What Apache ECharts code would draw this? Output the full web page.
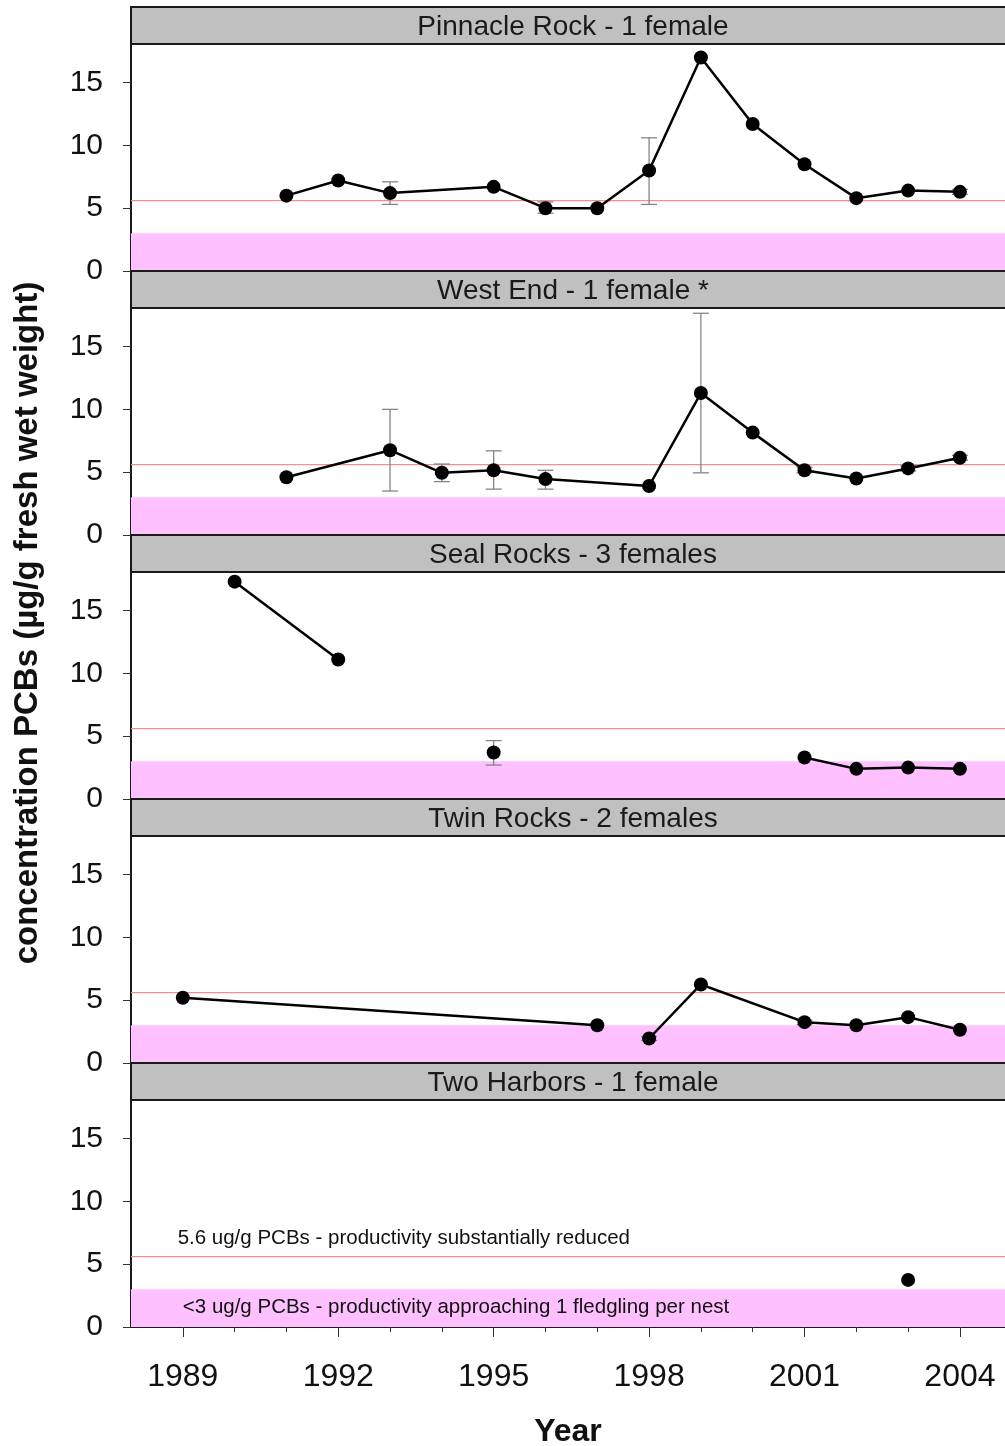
<!DOCTYPE html>
<html><head><meta charset="utf-8">
<script src="https://cdn.jsdelivr.net/npm/echarts@6/dist/echarts.min.js"></script>
<style>html,body{margin:0;padding:0;background:#fff}#c{width:1005px;height:1446px}</style>
</head><body><div id="c"></div>
<script>
// ---------- data ----------
const panelTitles = ['Pinnacle Rock - 1 female', 'West End - 1 female *', 'Seal Rocks - 3 females', 'Twin Rocks - 2 females', 'Two Harbors - 1 female'];
const xTickLabels = [1989, 1992, 1995, 1998, 2001, 2004];
const allYears = [1989,1990,1991,1992,1993,1994,1995,1996,1997,1998,1999,2000,2001,2002,2003,2004];
const yTickLabels = [0, 5, 10, 15];

const pinnacleYears    = [1991, 1992, 1993, 1995, 1996, 1997, 1998, 1999, 2000, 2001, 2002, 2003, 2004];
const pinnacleValues   = [6.0, 7.2, 6.2, 6.7, 5.0, 5.0, 8.0, 17.0, 11.7, 8.5, 5.8, 6.4, 6.3];
const pinnacleErrLow   = [null, null, 5.3, null, 4.6, null, 5.3, null, null, null, null, null, 6.1];
const pinnacleErrHigh  = [null, null, 7.1, null, 5.5, null, 10.6, null, null, null, null, null, 6.5];
const pinnacleSegments = [0, 0, 0, 0, 0, 0, 0, 0, 0, 0, 0, 0, 0];

const westEndYears    = [1991, 1993, 1994, 1995, 1996, 1998, 1999, 2000, 2001, 2002, 2003, 2004];
const westEndValues   = [4.6, 6.75, 4.95, 5.15, 4.45, 3.9, 11.3, 8.15, 5.15, 4.5, 5.3, 6.15];
const westEndErrLow   = [null, 3.5, 4.25, 3.65, 3.65, null, 4.95, null, 4.95, null, 5.1, 5.95];
const westEndErrHigh  = [null, 10.0, 5.65, 6.7, 5.15, null, 17.65, null, 5.4, null, 5.5, 6.35];
const westEndSegments = [0, 0, 0, 0, 0, 0, 0, 0, 0, 0, 0, 0];

const sealYears    = [1990, 1992, 1995, 2001, 2002, 2003, 2004];
const sealValues   = [17.3, 11.1, 3.7, 3.3, 2.4, 2.5, 2.4];
const sealErrLow   = [null, null, 2.7, null, null, null, null];
const sealErrHigh  = [null, null, 4.65, null, null, null, null];
const sealSegments = [0, 0, 1, 2, 2, 2, 2];

const twinYears    = [1989, 1997, 1998, 1999, 2001, 2002, 2003, 2004];
const twinValues   = [5.2, 3.0, 1.95, 6.25, 3.25, 3.0, 3.65, 2.65];
const twinErrLow   = [null, null, 1.8, null, 3.05, null, null, null];
const twinErrHigh  = [null, null, 2.1, null, 3.4, null, null, null];
const twinSegments = [0, 0, 1, 1, 1, 1, 1, 1];

const twoHarborsYears    = [2003];
const twoHarborsValues   = [3.75];
const twoHarborsErrLow   = [null];
const twoHarborsErrHigh  = [null];
const twoHarborsSegments = [0];

const reducedLevel = 5.6;          // red reference line
const goodBand = [0, 3];           // pink band
const reducedText = '5.6 ug/g PCBs - productivity substantially reduced';
const goodText = '<3 ug/g PCBs - productivity approaching 1 fledgling per nest';
const yTitle = 'concentration PCBs (\u00b5g/g fresh wet weight)';
const xTitle = 'Year';

// ---------- layout / style ----------
const FONT = '"Liberation Sans", Arial, sans-serif';
const X_MIN = 1988, X_MAX = 2004.87, Y_MAX = 18.07;
const PLOT_LEFT = 131, PLOT_W = 874, HEADER_H = 37, PLOT_H = 227, FIRST_TOP = 7;

const sites = [
  {years: pinnacleYears, values: pinnacleValues, lo: pinnacleErrLow, hi: pinnacleErrHigh, seg: pinnacleSegments},
  {years: westEndYears, values: westEndValues, lo: westEndErrLow, hi: westEndErrHigh, seg: westEndSegments},
  {years: sealYears, values: sealValues, lo: sealErrLow, hi: sealErrHigh, seg: sealSegments},
  {years: twinYears, values: twinValues, lo: twinErrLow, hi: twinErrHigh, seg: twinSegments},
  {years: twoHarborsYears, values: twoHarborsValues, lo: twoHarborsErrLow, hi: twoHarborsErrHigh, seg: twoHarborsSegments}
];

const chart = echarts.init(document.getElementById('c'));
const grids = [], xAxes = [], yAxes = [], series = [], graphics = [];

sites.forEach((s, i) => {
  const headerTop = FIRST_TOP + i * (HEADER_H + PLOT_H);
  const plotTop = headerTop + HEADER_H;
  const last = i === sites.length - 1;
  grids.push({left: PLOT_LEFT, width: PLOT_W, top: plotTop, height: PLOT_H, containLabel: false, outerBoundsMode: 'none'});
  xAxes.push({
    type: 'value', gridIndex: i, min: X_MIN, max: X_MAX, position: 'bottom',
    splitLine: {show: false},
    axisLine: {show: last, onZero: false, lineStyle: {color: '#1a1a1a', width: 2}},
    axisTick: {show: last, customValues: xTickLabels, length: 10, lineStyle: {color: '#333', width: 1}},
    axisLabel: {show: last, customValues: xTickLabels, fontSize: 32, color: '#111', fontFamily: FONT, margin: 34,
                formatter: v => String(v)},
    name: last ? xTitle : '', nameLocation: 'middle', nameGap: 89,
    nameTextStyle: {fontSize: 32, fontWeight: 'bold', color: '#111', fontFamily: FONT}
  });
  yAxes.push({
    type: 'value', gridIndex: i, min: 0, max: Y_MAX,
    splitLine: {show: false},
    axisLine: {show: true, onZero: false, lineStyle: {color: '#1a1a1a', width: 2}},
    axisTick: {show: true, customValues: yTickLabels, length: 8, lineStyle: {color: '#333', width: 1}},
    axisLabel: {customValues: yTickLabels, fontSize: 30, color: '#111', fontFamily: FONT, margin: 28,
                padding: [7, 0, 0, 0]}
  });

  // threshold band + line
  series.push({
    type: 'custom', xAxisIndex: i, yAxisIndex: i, z: 1, silent: true,
    data: [[goodBand[0], goodBand[1], reducedLevel]],
    renderItem: (params, api) => {
      const cs = params.coordSys;
      const yLo = api.coord([X_MIN, api.value(0)])[1];
      const yHi = api.coord([X_MIN, api.value(1)])[1];
      const yL = api.coord([X_MIN, api.value(2)])[1];
      return {type: 'group', children: [
        {type: 'rect', shape: {x: cs.x, y: yHi, width: cs.width, height: yLo - yHi}, style: {fill: '#ffc0ff'}},
        {type: 'line', shape: {x1: cs.x, y1: yL, x2: cs.x + cs.width, y2: yL}, style: {stroke: '#f09090', lineWidth: 1.2}}
      ]};
    }
  });

  // error bars
  const errData = [];
  s.years.forEach((y, k) => { if (s.lo[k] != null) errData.push([y, s.lo[k], s.hi[k]]); });
  series.push({
    type: 'custom', xAxisIndex: i, yAxisIndex: i, z: 3, silent: true,
    data: errData,
    renderItem: (params, api) => {
      const a = api.coord([api.value(0), api.value(1)]);
      const b = api.coord([api.value(0), api.value(2)]);
      const cw = 8, st = {stroke: '#858585', lineWidth: 1.3};
      return {type: 'group', children: [
        {type: 'line', shape: {x1: a[0], y1: a[1], x2: b[0], y2: b[1]}, style: st},
        {type: 'line', shape: {x1: a[0] - cw, y1: a[1], x2: a[0] + cw, y2: a[1]}, style: st},
        {type: 'line', shape: {x1: b[0] - cw, y1: b[1], x2: b[0] + cw, y2: b[1]}, style: st}
      ]};
    }
  });

  // line segments
  const segIds = [...new Set(s.seg)];
  segIds.forEach(id => {
    const d = [];
    s.years.forEach((y, k) => { if (s.seg[k] === id) d.push([y, s.values[k]]); });
    series.push({
      type: 'line', xAxisIndex: i, yAxisIndex: i, z: 4, data: d,
      symbol: 'circle', symbolSize: 14, showSymbol: true, silent: true,
      itemStyle: {color: '#000'}, lineStyle: {color: '#000', width: 2.5}
    });
  });

  // header strip
  graphics.push({
    type: 'rect', z: 100, shape: {x: PLOT_LEFT, y: headerTop, width: PLOT_W + 2, height: HEADER_H},
    style: {fill: '#c0c0c0', stroke: '#1a1a1a', lineWidth: 2}
  });
  graphics.push({
    type: 'text', z: 101, x: 573, y: headerTop + HEADER_H / 2 + 2,
    style: {text: panelTitles[i], font: '28px ' + FONT, fill: '#1a1a1a', textAlign: 'center', textVerticalAlign: 'middle'}
  });
});

// minor year ticks on the bottom axis
xAxes.push({
  type: 'value', gridIndex: sites.length - 1, min: X_MIN, max: X_MAX, position: 'bottom',
  splitLine: {show: false}, axisLine: {show: false, onZero: false},
  axisTick: {show: true, customValues: allYears, length: 5, lineStyle: {color: '#333', width: 1}},
  axisLabel: {show: false}
});

graphics.push({
  type: 'text', z: 101, x: 28, y: 623, rotation: Math.PI / 2,
  style: {text: yTitle, font: 'bold 33px ' + FONT, fill: '#111', textAlign: 'center', textVerticalAlign: 'middle'}
});

chart.setOption({
  animation: false,
  grid: grids, xAxis: xAxes, yAxis: yAxes, series: series, graphic: graphics
});

// annotations in the last panel
const lastG = sites.length - 1;
const p1 = chart.convertToPixel({xAxisIndex: lastG, yAxisIndex: lastG}, [1988.9, 7.05]);
const p2 = chart.convertToPixel({xAxisIndex: lastG, yAxisIndex: lastG}, [1989.0, 1.55]);
graphics.push({type: 'text', z: 102, x: p1[0], y: p1[1],
  style: {text: reducedText, font: '20.5px ' + FONT, fill: '#111', textAlign: 'left', textVerticalAlign: 'middle'}});
graphics.push({type: 'text', z: 102, x: p2[0], y: p2[1],
  style: {text: goodText, font: '20.5px ' + FONT, fill: '#111', textAlign: 'left', textVerticalAlign: 'middle'}});
chart.setOption({graphic: graphics});
</script>
</body></html>
